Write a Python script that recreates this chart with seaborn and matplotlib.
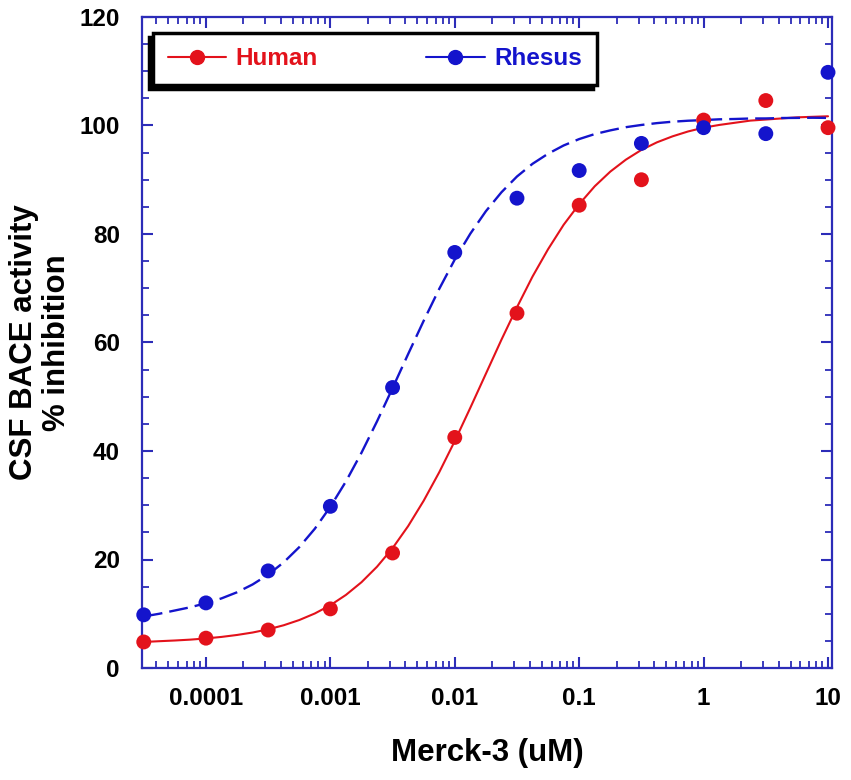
import numpy as np
import pandas as pd
import matplotlib
matplotlib.use("Agg")
import matplotlib.pyplot as plt
import seaborn as sns
from matplotlib.lines import Line2D
from matplotlib.ticker import LogLocator, FixedLocator, MultipleLocator, FixedFormatter

# ---- data ----
dose_log = [-4.5, -4.0, -3.5, -3.0, -2.5, -2.0, -1.5, -1.0, -0.5, 0.0, 0.5, 1.0]
human_pts = [4.8, 5.5, 7.0, 10.9, 21.2, 42.5, 65.4, 85.3, 90.0, 101.0, 104.6, 99.6]
rhesus_pts = [9.8, 12.0, 17.9, 29.8, 51.7, 76.6, 86.6, 91.7, 96.7, 99.6, 98.5, 109.8]

# fitted curves (log10 dose positions)
curve_log = [-4.5, -4.375, -4.25, -4.125, -4.0, -3.875, -3.75, -3.625, -3.5, -3.375,
             -3.25, -3.125, -3.0, -2.875, -2.75, -2.625, -2.5, -2.375, -2.25, -2.125,
             -2.0, -1.875, -1.75, -1.625, -1.5, -1.375, -1.25, -1.125, -1.0, -0.875,
             -0.75, -0.625, -0.5, -0.375, -0.25, -0.125, 0.0, 0.125, 0.25, 0.375,
             0.5, 0.625, 0.75, 0.875, 1.0]
human_curve = [4.8, 4.94, 5.07, 5.23, 5.45, 5.73, 6.09, 6.54, 7.13, 7.88,
               8.84, 10.05, 11.57, 13.47, 15.81, 18.67, 22.09, 26.15, 30.83, 36.08,
               41.84, 47.97, 54.24, 60.51, 66.5, 72.16, 77.2, 81.7, 85.5, 88.8,
               91.5, 93.7, 95.5, 96.9, 98.0, 98.9, 99.6, 100.1, 100.5, 100.9,
               101.1, 101.3, 101.5, 101.6, 101.7]
rhesus_curve = [9.5, 10.0, 10.6, 11.2, 11.95, 12.83, 13.96, 15.4, 17.21, 19.48,
                22.28, 25.67, 29.72, 34.38, 39.67, 45.46, 51.6, 57.86, 64.0, 69.88,
                75.3, 80.06, 84.2, 87.69, 90.6, 92.94, 94.8, 96.32, 97.5, 98.42,
                99.1, 99.69, 100.1, 100.44, 100.7, 100.88, 101.0, 101.14, 101.2, 101.29,
                101.3, 101.38, 101.4, 101.43, 101.4]

x_ticks = [1e-4, 1e-3, 1e-2, 1e-1, 1, 10]
x_ticklabels = ["0.0001", "0.001", "0.01", "0.1", "1", "10"]
y_ticks = [0, 20, 40, 60, 80, 100, 120]
series_names = ["Human", "Rhesus"]

RED = "#e3121b"
BLUE = "#1414cc"
SPINE = "#2c2cb8"

pts = pd.DataFrame({
    "dose": np.power(10.0, dose_log * 2),
    "val": human_pts + rhesus_pts,
    "species": [series_names[0]] * len(dose_log) + [series_names[1]] * len(dose_log),
})
curves = pd.DataFrame({
    "dose": np.power(10.0, curve_log * 2),
    "val": human_curve + rhesus_curve,
    "species": [series_names[0]] * len(curve_log) + [series_names[1]] * len(curve_log),
})

sns.set_theme(style="white")
plt.rcParams["font.family"] = ["Liberation Sans", "DejaVu Sans"]
plt.rcParams["font.weight"] = "bold"

fig = plt.figure(figsize=(8.51, 7.80), dpi=100)
ax = fig.add_axes([142 / 851, 112 / 780, 690 / 851, 651 / 780])

hc = curves[curves.species == "Human"]
rc = curves[curves.species == "Rhesus"]
sns.lineplot(data=hc, x="dose", y="val", ax=ax, color=RED, lw=1.5,
             estimator=None, sort=False, legend=False)
sns.lineplot(data=rc, x="dose", y="val", ax=ax, color=BLUE, lw=1.7,
             estimator=None, sort=False, legend=False)
ax.lines[-1].set_dashes([8, 3])

sns.scatterplot(data=pts, x="dose", y="val", hue="species",
                palette={"Human": RED, "Rhesus": BLUE}, s=115, edgecolor="none",
                ax=ax, legend=False, zorder=5, clip_on=False)

ax.set_xscale("log")
ax.set_xlim(10 ** -4.514, 10 ** 1.032)
ax.set_ylim(0, 120)

ax.xaxis.set_major_locator(FixedLocator(x_ticks))
ax.xaxis.set_major_formatter(FixedFormatter(x_ticklabels))
ax.xaxis.set_minor_locator(LogLocator(base=10, subs=np.arange(2, 10), numticks=100))
ax.yaxis.set_major_locator(FixedLocator(y_ticks))
ax.yaxis.set_minor_locator(MultipleLocator(5))

for sp in ax.spines.values():
    sp.set_color(SPINE)
    sp.set_linewidth(1.6)
    sp.set_visible(True)

ax.tick_params(which="both", direction="in", top=True, right=True, color=SPINE,
               bottom=True, left=True)
ax.tick_params(which="major", length=8, width=1.5, labelsize=17.5, labelcolor="black")
ax.tick_params(axis="x", which="major", pad=14)
ax.tick_params(axis="y", which="major", pad=16)
ax.tick_params(which="minor", length=5, width=1.3)
for lab in ax.get_xticklabels() + ax.get_yticklabels():
    lab.set_fontweight("bold")

ax.set_xlabel("Merck-3 (uM)", fontsize=22.5, fontweight="bold", labelpad=20, color="black")
ax.set_ylabel("CSF BACE activity\n% inhibition", fontsize=22.5, fontweight="bold",
              labelpad=5, color="black", linespacing=1.15)

handles = [
    Line2D([], [], color=RED, lw=1.5, marker="o", markersize=10, markeredgecolor=RED),
    Line2D([], [], color=BLUE, lw=1.5, marker="o", markersize=10, markeredgecolor=BLUE),
]
leg = ax.legend(handles, series_names, loc="upper left", ncol=2, mode="expand",
                bbox_to_anchor=(0.016, 0.894, 0.643, 0.082), borderaxespad=0,
                prop={"size": 17.5, "weight": "bold"}, handlelength=2.4,
                handletextpad=0.4, borderpad=0.6, fancybox=False, frameon=True,
                shadow={"ox": -3, "oy": -3, "color": "black", "alpha": 1.0})
leg.get_frame().set_edgecolor("black")
leg.get_frame().set_linewidth(2.5)
leg.get_frame().set_facecolor("white")
for t, c in zip(leg.get_texts(), [RED, BLUE]):
    t.set_color(c)

fig.savefig("out.png", dpi=100)
